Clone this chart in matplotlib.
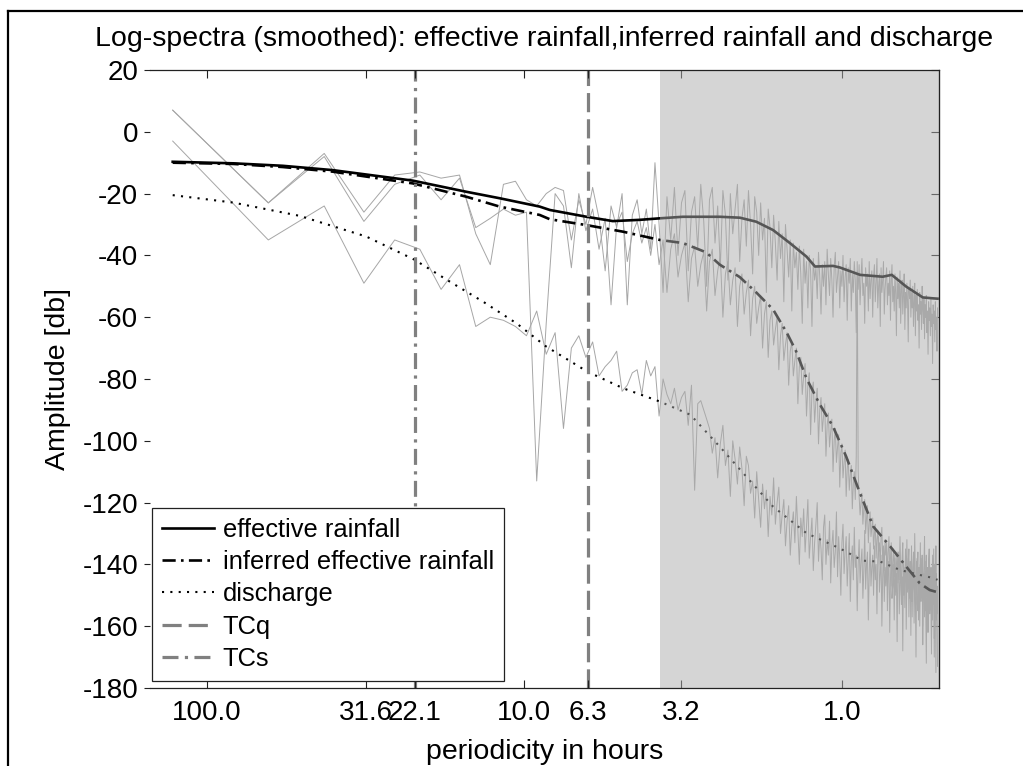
import numpy as np
import matplotlib.pyplot as plt
from matplotlib.patches import Rectangle
from matplotlib.lines import Line2D

plt.rcParams['font.family'] = ['Liberation Sans', 'DejaVu Sans']
plt.rcParams['axes.unicode_minus'] = False

# record: 512 quarter-hour samples -> 256 spectral bins, bin k has period 128/k hours
record_hours = 128.0
bins = np.arange(1, 257)

# raw log-spectra (db), one value per bin
raw_eff = [7, -23, -7, -26, -14, -13, -15, -14, -33, -43, -17, -16, -22, -24, -20, -18,
           -19, -35, -22, -30, -18, -28, -45, -24, -31, -20, -56, -27, -22, -33, -25, -38,
           -10, -30, -52, -21, -35, -18, -40, -23, -19, -45, -26, -21, -38, -17, -29, -50,
           -22, -18, -36, -24, -44, -19, -27, -48, -20, -33, -25, -17, -42, -28, -22, -37,
           -19, -30, -46, -21, -26, -40, -23, -35, -28, -52, -25, -31, -44, -27, -36, -48,
           -29, -41, -33, -55, -30, -38, -47, -35, -58, -36, -44, -39, -51, -37, -46, -62,
           -38, -49, -42, -57, -40, -45, -63, -41, -48, -44, -54, -39, -47, -59, -43, -50,
           -42, -56, -38, -46, -53, -41, -48, -60, -44, -39, -52, -47, -42, -57, -45, -50,
           -40, -55, -47, -43, -61, -44, -49, -41, -58, -46, -52, -42, -48, -65, -45, -51,
           -43, -56, -47, -41, -53, -49, -62, -44, -50, -46, -58, -42, -54, -48, -45, -60,
           -47, -43, -55, -49, -41, -57, -50, -46, -63, -44, -52, -48, -42, -59, -51, -47,
           -44, -56, -49, -53, -45, -61, -48, -43, -55, -50, -58, -46, -52, -66, -47, -54,
           -49, -57, -45, -62, -51, -48, -59, -53, -46, -64, -52, -57, -49, -55, -68, -51,
           -54, -48, -60, -52, -57, -50, -63, -55, -49, -66, -53, -58, -51, -61, -56, -70,
           -52, -59, -55, -64, -50, -57, -62, -54, -67, -56, -60, -53, -65, -58, -72, -55,
           -61, -57, -66, -54, -63, -59, -75, -56, -62, -58, -68, -55, -64, -60, -71, -57]

raw_inf = [7, -23, -8, -29, -17, -14, -22, -15, -31, -28, -25, -27, -26, -113, -62, -20,
           -24, -44, -20, -32, -25, -38, -28, -56, -30, -26, -42, -33, -29, -36, -31, -40,
           -30, -43, -35, -52, -38, -33, -47, -40, -36, -55, -41, -37, -50, -43, -39, -58,
           -42, -38, -53, -45, -40, -60, -46, -42, -56, -48, -44, -63, -50, -46, -59, -52,
           -48, -66, -54, -50, -62, -57, -53, -70, -59, -55, -73, -61, -58, -69, -64, -60,
           -77, -66, -62, -74, -69, -65, -82, -71, -68, -79, -74, -70, -88, -76, -73, -85,
           -79, -75, -92, -82, -78, -98, -84, -81, -94, -87, -83, -101, -90, -86, -97, -92,
           -88, -105, -95, -91, -102, -97, -93, -110, -100, -96, -107, -102, -98, -115, -104, -101,
           -112, -107, -103, -118, -109, -106, -116, -111, -108, -122, -114, -110, -119, -105, -42, -110,
           -118, -124, -120, -117, -127, -122, -119, -130, -125, -121, -133, -127, -123, -131, -128, -125,
           -135, -130, -127, -138, -132, -129, -136, -133, -140, -131, -128, -139, -134, -142, -132, -137,
           -133, -145, -136, -131, -141, -138, -134, -147, -139, -135, -144, -137, -150, -140, -136, -146,
           -136, -145, -131, -142, -150, -138, -133, -147, -141, -154, -137, -144, -132, -149, -140, -135,
           -151, -139, -146, -134, -157, -142, -137, -148, -130, -145, -153, -139, -144, -136, -158, -141,
           -147, -133, -152, -143, -138, -160, -145, -140, -131, -155, -148, -137, -162, -144, -150, -139,
           -135, -156, -146, -141, -165, -149, -137, -153, -143, -170, -140, -152, -134, -158, -147, -173]

raw_q = [-3, -35, -24, -49, -35, -38, -51, -43, -63, -60, -61, -63, -66, -58, -72, -65,
         -96, -70, -66, -73, -68, -79, -76, -74, -71, -84, -82, -78, -77, -85, -74, -79,
         -76, -92, -80, -85, -88, -83, -90, -86, -84, -95, -82, -116, -88, -87, -90, -93,
         -96, -104, -99, -112, -101, -95, -108, -103, -118, -100, -106, -114, -102, -109, -121, -105,
         -108, -117, -113, -125, -110, -119, -128, -114, -122, -116, -131, -118, -124, -112, -127, -120,
         -115, -130, -124, -119, -134, -126, -121, -137, -128, -123, -133, -118, -129, -140, -125, -131,
         -122, -136, -128, -119, -138, -131, -125, -142, -133, -127, -120, -139, -130, -135, -145, -128,
         -124, -140, -132, -137, -126, -146, -134, -129, -141, -136, -123, -144, -131, -138, -150, -133,
         -127, -143, -136, -131, -147, -138, -130, -152, -139, -134, -145, -128, -141, -137, -155, -140,
         -132, -146, -139, -135, -151, -142, -129, -148, -140, -136, -158, -143, -133, -147, -141, -137,
         -150, -134, -145, -140, -156, -138, -131, -149, -143, -137, -160, -144, -135, -152, -141, -147,
         -136, -155, -142, -139, -162, -145, -133, -151, -147, -140, -158, -138, -149, -143, -165, -141,
         -137, -156, -146, -140, -153, -144, -168, -139, -150, -145, -135, -161, -143, -148, -138, -157,
         -146, -141, -163, -139, -152, -147, -136, -159, -144, -150, -170, -142, -138, -155, -148, -143,
         -160, -140, -151, -146, -137, -166, -149, -143, -157, -139, -153, -172, -145, -141, -162, -148,
         -138, -155, -150, -144, -169, -141, -158, -147, -135, -164, -152, -146, -175, -143, -156, -149]

# smoothed spectra, read at selected bins
eff_bin = [1, 1.55, 2.22, 3.19, 5.7, 8.4, 10.7, 14.3, 15.4, 20.1, 24.3, 29.5, 34.2, 40.4, 52.8,
           61.1, 68.8, 77.7, 88, 99, 105.3, 120, 126, 146, 172, 183.7, 204, 230, 248, 256]
eff_db = [-9.7, -10.2, -11.0, -12.4, -15.8, -19.4, -21.5, -24.2, -25.3, -27.5, -28.9, -28.5, -28.0,
          -27.5, -27.5, -27.8, -29.1, -31.8, -36.1, -40.4, -43.6, -43.4, -43.9, -46.3, -46.9, -46.3,
          -50.1, -53.6, -53.9, -54.0]

inf_bin = [1, 1.55, 2.22, 3.19, 5.7, 8.4, 10.7, 14.3, 15.4, 20.1, 26.1, 34.2, 40.4, 47.8, 52.8,
           61, 68.8, 77.7, 85.8, 91.8, 99, 108.6, 120, 132, 146, 160.8, 182, 204, 225, 242, 256]
inf_db = [-10.0, -10.4, -11.4, -12.9, -16.7, -21.0, -24.2, -26.9, -28.3, -30.2, -32.3, -35.0, -36.0,
          -39.0, -43.0, -47.0, -52.0, -57.5, -65.0, -71.0, -79.8, -87.9, -95.4, -105.1, -117.0,
          -127.8, -134.3, -140.7, -146.1, -148.3, -149.0]

q_bin = [1, 1.55, 2.51, 4.07, 5.75, 7.46, 9.5, 12.1, 15, 20.2, 26.2, 34.2, 42.7, 52.8, 64, 77.7,
         99, 126, 149, 169, 195, 225, 250, 256]
q_db = [-20.5, -22.9, -27.2, -33.9, -41.3, -48.5, -55.0, -62.0, -69.5, -77.6, -83.0, -87.3, -91.6,
        -101.9, -111.6, -121.3, -129.9, -134.8, -138.8, -139.1, -141.8, -143.4, -144.5, -145.0]

# time constants (hours) and start of shaded band
tc_q = 6.3
tc_s = 22.1
shade_from = 3.73

tick_periods = [100.0, 31.6, 22.1, 10.0, 6.3, 3.2, 1.0]
ytick_vals = list(range(-180, 21, 20))

freq = bins / record_hours

fig = plt.figure(figsize=(10.23, 7.66), dpi=100)
ax = fig.add_axes([150 / 1023, 78 / 766, 789 / 1023, 618 / 766])

for raw in (raw_eff, raw_inf, raw_q):
    ax.plot(freq, raw, color='#a6a6a6', lw=0.7, zorder=1)

l_eff, = ax.plot(np.array(eff_bin) / record_hours, eff_db, color='black', lw=1.9,
                 zorder=1.2, label='effective rainfall')
l_inf, = ax.plot(np.array(inf_bin) / record_hours, inf_db, color='black', lw=1.9,
                 ls=(0, (5, 2, 1, 2)), zorder=1.2, label='inferred effective rainfall')
l_q, = ax.plot(np.array(q_bin) / record_hours, q_db, color='black', lw=1.5,
               ls=(0, (1, 3.0)), zorder=1.2, label='discharge')
l_tcq = ax.axvline(1 / tc_q, color='#808080', lw=2.3, ls=(0, (6, 2.2)), zorder=1.3, label='TCq')
l_tcs = ax.axvline(1 / tc_s, color='#808080', lw=2.3, ls=(0, (5, 2, 1, 2)), zorder=1.3, label='TCs')

xlo, xhi = 1 / 150.9, 1 / 0.4947
ax.set_xscale('log')
ax.set_xlim(xlo, xhi)
ax.set_ylim(-180, 20)

# half-transparent grey band over the high frequencies
ax.add_patch(Rectangle((1 / shade_from, -180), xhi - 1 / shade_from, 200,
                       facecolor='#acacac', alpha=0.5, edgecolor='none', zorder=1.6))

ax.set_xticks([1 / p for p in tick_periods])
ax.set_xticklabels(['%.1f' % p for p in tick_periods])
ax.xaxis.set_minor_locator(plt.NullLocator())
ax.set_yticks(ytick_vals)

ax.tick_params(axis='x', which='major', direction='in', top=True, bottom=True,
               length=5.5, width=0.8, labelsize=20, pad=9, color='#222222')
ax.tick_params(axis='y', which='major', direction='out', left=True, right=False,
               length=4.5, width=0.8, labelsize=20, pad=4, color='#222222')
sec = ax.secondary_yaxis('right')
sec.set_yticks(ytick_vals)
sec.tick_params(direction='in', length=6, width=0.8, labelright=False, color='#222222')
sec.spines['right'].set_color('#222222')

ax.spines['left'].set_visible(False)
for s in ('top', 'bottom', 'right'):
    ax.spines[s].set_color('#222222')
    ax.spines[s].set_linewidth(0.9)

ax.set_title('Log-spectra (smoothed): effective rainfall,inferred rainfall and discharge',
             fontsize=20.5, pad=17)
ax.set_xlabel('periodicity in hours', fontsize=20.5, labelpad=9)
ax.set_ylabel('Amplitude [db]', fontsize=20.5, labelpad=8)

leg = ax.legend(handles=[l_eff, l_inf, l_q, l_tcq, l_tcs], loc='lower left',
                bbox_to_anchor=(0.0025, 0.0113), borderaxespad=0, fontsize=18.4,
                fancybox=False, framealpha=1, edgecolor='#222222', handlelength=2.05,
                handletextpad=0.34, labelspacing=0.33, borderpad=0.38)
leg.get_frame().set_linewidth(0.9)
leg.set_zorder(5)

# partial outer frame
fig.add_artist(Line2D([8 / 1023, 8 / 1023], [0, 1 - 10.7 / 766], color='black', lw=1.6))
fig.add_artist(Line2D([8 / 1023, 1], [1 - 10.7 / 766, 1 - 10.7 / 766], color='black', lw=1.6))

fig.savefig('out.png', dpi=100)
